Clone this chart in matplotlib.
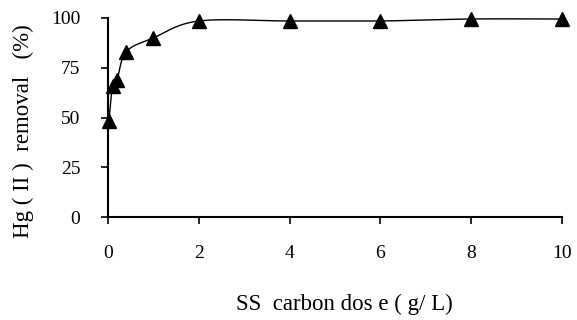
import numpy as np
import matplotlib
matplotlib.use("Agg")
import matplotlib.pyplot as plt

dose = [0.02, 0.1, 0.2, 0.4, 1.0, 2.0, 4.0, 6.0, 8.0, 10.0]
removal = [48, 66, 69, 83, 90, 98.5, 98.5, 98.5, 99.5, 99.5]
xticks = [0, 2, 4, 6, 8, 10]
yticks = [0, 25, 50, 75, 100]


def smooth(x, y, n=30):
    x = np.asarray(x, float)
    y = np.asarray(y, float)
    px = np.concatenate([[2 * x[0] - x[1]], x, [2 * x[-1] - x[-2]]])
    py = np.concatenate([[2 * y[0] - y[1]], y, [2 * y[-1] - y[-2]]])
    xs, ys = [], []
    t = np.linspace(0, 1, n)
    for i in range(1, len(px) - 2):
        p0x, p1x, p2x, p3x = px[i - 1:i + 3]
        p0y, p1y, p2y, p3y = py[i - 1:i + 3]
        c1x = p1x + (p2x - p0x) / 6
        c1y = p1y + (p2y - p0y) / 6
        c2x = p2x - (p3x - p1x) / 6
        c2y = p2y - (p3y - p1y) / 6
        bx = (1 - t) ** 3 * p1x + 3 * (1 - t) ** 2 * t * c1x + 3 * (1 - t) * t ** 2 * c2x + t ** 3 * p2x
        by = (1 - t) ** 3 * p1y + 3 * (1 - t) ** 2 * t * c1y + 3 * (1 - t) * t ** 2 * c2y + t ** 3 * p2y
        xs.append(bx)
        ys.append(by)
    return np.concatenate(xs), np.concatenate(ys)


plt.rcParams['font.family'] = ['Liberation Serif', 'DejaVu Serif']

fig = plt.figure(figsize=(5.77, 3.2), dpi=100)
ax = fig.add_axes([108 / 577, 1 - 217 / 320, (562 - 108) / 577, (217 - 18) / 320])

sx, sy = smooth(dose, removal)
ax.plot(sx, sy, color='black', lw=1.0, zorder=2)
ax.plot(dose, removal, linestyle='none', marker='^', markersize=10,
        color='black', zorder=3, clip_on=False)

ax.set_xlim(0, 10)
ax.set_ylim(0, 100)
ax.set_xticks(xticks)
ax.set_yticks(yticks)
ax.tick_params(axis='both', direction='out', length=5, width=1.2,
               labelsize=14, pad=15)
ax.spines['top'].set_visible(False)
ax.spines['right'].set_visible(False)
ax.spines['left'].set_linewidth(1.5)
ax.spines['bottom'].set_linewidth(1.5)

ax.set_ylabel('Hg ( II )  removal   (%)', fontsize=16.5)
ax.yaxis.set_label_coords(-0.164, 0.43)
ax.set_xlabel('SS  carbon dos e ( g/ L)', fontsize=16.5)
ax.xaxis.set_label_coords(0.52, -0.44)
ax.xaxis.label.set_va('center')

fig.savefig('out.png', dpi=100)
